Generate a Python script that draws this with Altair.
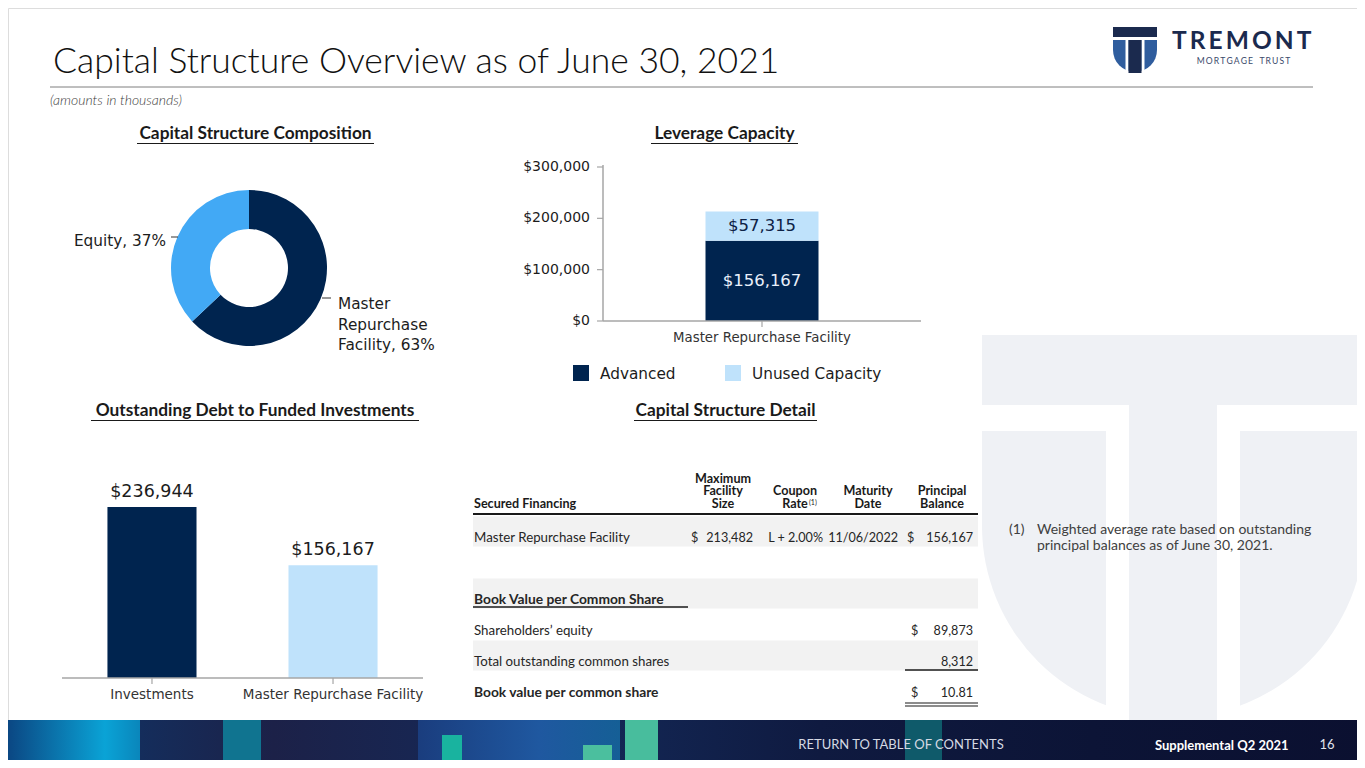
import math
import altair as alt
import pandas as pd

OFF = 8


def P(v):
    return v - OFF


# ---------------- data ----------------
page_title = ["Capital Structure Overview as of June 30, 2021"]
page_subtitle = ["(amounts in thousands)"]
section_titles = ["Capital Structure Composition", "Leverage Capacity",
                  "Outstanding Debt to Funded Investments", "Capital Structure Detail"]

comp_labels = ["Master Repurchase Facility", "Equity"]
comp_pct = [63, 37]

lev_category = ["Master Repurchase Facility"]
lev_series = ["Advanced", "Unused Capacity"]
lev_values = [156167, 57315]
lev_ticks = [0, 100000, 200000, 300000]

debt_categories = ["Investments", "Master Repurchase Facility"]
debt_values = [236944, 156167]

tbl_header = ["Secured Financing", "Maximum\nFacility\nSize", "Coupon\nRate", "Maturity\nDate", "Principal\nBalance"]
tbl_mrf = ["Master Repurchase Facility", "$", "213,482", "L + 2.00%", "11/06/2022", "$", "156,167"]
bv_title = ["Book Value per Common Share"]
bv_labels = ["Shareholders\u2019 equity", "Total outstanding common shares", "Book value per common share"]
bv_dollar = ["$", "", "$"]
bv_values = ["89,873", "8,312", "10.81"]
footnote = ["(1)", "Weighted average rate based on outstanding\nprincipal balances as of June 30, 2021."]
footer_text = ["RETURN TO TABLE OF CONTENTS", "Supplemental Q2 2021", "16"]
logo_text = ["TREMONT", "MORTGAGE TRUST"]

# ---------------- styles ----------------
NAVY = "#00244f"
DONUT_LIGHT = "#42a9f5"
BAR_LIGHT = "#bfe2fb"
AXIS_GRAY = "#a6a6a6"
TEXT = "#1c1c1c"
BG_T = "#eff1f5"
BAND = "#f2f2f2"
DV = "DejaVu Sans"
SANS = "Lato"

one = pd.DataFrame({"k": [0]})


def rect(x1, y1, x2, y2, color):
    return alt.Chart(one).mark_rect(color=color).encode(
        x=alt.value(P(x1)), x2=alt.value(P(x2)), y=alt.value(P(y1)), y2=alt.value(P(y2)))


def hrule(x1, x2, y, color, w=1.0):
    return alt.Chart(one).mark_rule(color=color, strokeWidth=w).encode(
        x=alt.value(P(x1)), x2=alt.value(P(x2)), y=alt.value(P(y)))


def vrule(x, y1, y2, color, w=1.0):
    return alt.Chart(one).mark_rule(color=color, strokeWidth=w).encode(
        x=alt.value(P(x)), y=alt.value(P(y1)), y2=alt.value(P(y2)))


def text(s, x, y, size, color=TEXT, font=SANS, weight="normal", align="left",
         baseline="middle", style="normal", line_height=None):
    kw = dict(fontSize=size, color=color, font=font, fontWeight=weight, align=align,
              baseline=baseline, fontStyle=style, lineBreak="\n")
    if line_height:
        kw["lineHeight"] = line_height
    return alt.Chart(pd.DataFrame({"t": [s]})).mark_text(**kw).encode(
        text="t:N", x=alt.value(P(x)), y=alt.value(P(y)))


def half_disc(cx, cy, r, color):
    return alt.Chart(one).mark_arc(color=color, theta=math.pi / 2, theta2=3 * math.pi / 2,
                                   outerRadius=r, innerRadius=0).encode(
        x=alt.value(P(cx)), y=alt.value(P(cy)))


layers = []

# ---------------- background T shape ----------------
layers += [
    rect(982, 335, 1366, 526, BG_T),
    half_disc(1173.5, 526, 191.5, BG_T),
    rect(1129, 500, 1217, 720, BG_T),
    rect(982, 405, 1129, 431, "white"),
    rect(1217, 405, 1366, 431, "white"),
    rect(1106, 405, 1129, 720, "white"),
    rect(1217, 405, 1240, 720, "white"),
]

# ---------------- header ----------------
layers += [
    text(page_title[0], 53, 62, 35.5, color="#111111", weight=300),
    hrule(50, 1313, 87, "#7f7f7f", 1),
    text(page_subtitle[0], 50, 101, 14, color="#404040", style="italic", weight=300),
]

# logo
LOGO_NAVY = "#1b2a4e"
LOGO_BLUE = "#2f5d9e"
layers += [
    rect(1113, 27, 1157, 50, LOGO_BLUE),
    half_disc(1135, 50, 22, LOGO_BLUE),
    rect(1113, 27, 1157, 37, LOGO_NAVY),
    rect(1112, 37, 1158, 40, "white"),
    rect(1125.5, 37, 1128.5, 75, "white"),
    rect(1141.5, 37, 1144.5, 75, "white"),
    rect(1128.5, 40, 1141.5, 73, LOGO_NAVY),
    text("\u2009".join(logo_text[0]), 1172, 42, 24.5, color=LOGO_NAVY, weight="bold"),
    text("\u2009".join(logo_text[1].replace(" ", "\u2002")), 1243.5, 61, 8.6, color="#3b4a6b", align="center"),
]

# ---------------- section titles ----------------
sec_pos = [(255.5, 134, 137, 374), (724.5, 134, 651, 798), (255, 411, 91, 419), (725.5, 411, 634, 817)]
for s, (cx, cy, ux1, ux2) in zip(section_titles, sec_pos):
    layers.append(text(s, cx, cy, 17.3, color="#1a1a1a", weight="bold", align="center"))
    layers.append(hrule(ux1, ux2, cy + 9.5, "#1a1a1a", 1))

# ---------------- donut ----------------
comp_df = pd.DataFrame({"label": comp_labels, "pct": comp_pct, "idx": [0, 1]})
layers.append(
    alt.Chart(comp_df).mark_arc(innerRadius=39, outerRadius=78).encode(
        theta=alt.Theta("pct:Q", stack=True),
        color=alt.Color("label:N", scale=alt.Scale(domain=comp_labels, range=[NAVY, DONUT_LIGHT]), legend=None),
        order=alt.Order("idx:Q"),
        x=alt.value(P(249)), y=alt.value(P(268)),
    )
)
eq_label = f"{comp_labels[1]}, {comp_pct[1]}%"
mrf_label = "\n".join(comp_labels[0].split(" ")) + f", {comp_pct[0]}%"
layers += [
    text(eq_label, 166, 241, 15.3, font=DV, align="right"),
    hrule(171, 178, 237, "#333333", 1),
    text(mrf_label, 338, 304, 15.3, font=DV, line_height=20.5),
    hrule(322, 331, 298, "#333333", 1),
]

# ---------------- leverage capacity ----------------
lev_df = pd.DataFrame({"category": lev_category * 2, "series": lev_series, "value": lev_values, "idx": [0, 1]})
lx = alt.Scale(type="band", domain=lev_category, range=[P(603), P(921)], paddingInner=0, paddingOuter=0.907)
ly = alt.Scale(domain=[0, 300000], range=[P(321), P(167)], nice=False)
layers.append(
    alt.Chart(lev_df).mark_bar().encode(
        x=alt.X("category:N", scale=lx, axis=None),
        y=alt.Y("value:Q", stack="zero", scale=ly, axis=None),
        color=alt.Color("series:N", scale=alt.Scale(domain=lev_series, range=[NAVY, BAR_LIGHT]), legend=None),
        order=alt.Order("idx:Q"),
    )
)
layers.append(
    alt.Chart(lev_df)
    .transform_window(cum="sum(value)", sort=[alt.SortField("idx")])
    .transform_calculate(mid="datum.cum - datum.value / 2")
    .mark_text(font=DV, fontSize=16.5)
    .encode(
        x=alt.X("category:N", scale=lx, axis=None, bandPosition=0.5),
        y=alt.Y("mid:Q", scale=ly, axis=None),
        text=alt.Text("value:Q", format="$,.0f"),
        color=alt.Color("series:N", scale=alt.Scale(domain=lev_series, range=["#e8effa", "#0d2145"]), legend=None),
    )
)
tick_df = pd.DataFrame({"v": lev_ticks})
layers += [
    alt.Chart(tick_df).mark_text(font=DV, fontSize=14, align="right", color=TEXT).encode(
        x=alt.value(P(590)), y=alt.Y("v:Q", scale=ly, axis=None), text=alt.Text("v:Q", format="$,.0f")),
    alt.Chart(tick_df).mark_rule(color=AXIS_GRAY, strokeWidth=1.2).encode(
        x=alt.value(P(597)), x2=alt.value(P(603)), y=alt.Y("v:Q", scale=ly, axis=None)),
    vrule(603, 165, 321, AXIS_GRAY, 1.5),
    hrule(603, 921, 321, AXIS_GRAY, 1.5),
]
levcat_df = pd.DataFrame({"category": lev_category})
layers += [
    alt.Chart(levcat_df).mark_rule(color=AXIS_GRAY, strokeWidth=1.2).encode(
        x=alt.X("category:N", scale=lx, axis=None, bandPosition=0.5),
        y=alt.value(P(321)), y2=alt.value(P(327))),
    alt.Chart(levcat_df).mark_text(font=DV, fontSize=13.3, color="#333333").encode(
        x=alt.X("category:N", scale=lx, axis=None, bandPosition=0.5),
        y=alt.value(P(338)), text="category:N"),
]
# legend
leg_df = pd.DataFrame({"series": lev_series})
lsx = alt.Scale(type="point", domain=lev_series, range=[P(581), P(733)], padding=0)
layers += [
    alt.Chart(leg_df).mark_square(size=256, opacity=1, filled=True).encode(
        x=alt.X("series:N", scale=lsx, axis=None), y=alt.value(P(373)),
        color=alt.Color("series:N", scale=alt.Scale(domain=lev_series, range=[NAVY, BAR_LIGHT]), legend=None)),
    alt.Chart(leg_df).mark_text(font=DV, fontSize=15.3, align="left", dx=19, color=TEXT).encode(
        x=alt.X("series:N", scale=lsx, axis=None), y=alt.value(P(374)), text="series:N"),
]

# ---------------- outstanding debt ----------------
debt_df = pd.DataFrame({"category": debt_categories, "value": debt_values})
dx_ = alt.Scale(type="band", domain=debt_categories, range=[P(62), P(423)], paddingInner=0.508, paddingOuter=0.251)
dy_ = alt.Scale(domain=[0, 300000], range=[P(678), P(678 - 300000 * 171 / 236944)], nice=False)
layers += [
    alt.Chart(debt_df).mark_bar().encode(
        x=alt.X("category:N", scale=dx_, axis=None),
        y=alt.Y("value:Q", scale=dy_, axis=None),
        color=alt.Color("category:N", scale=alt.Scale(domain=debt_categories, range=[NAVY, BAR_LIGHT]), legend=None),
    ),
    alt.Chart(debt_df).mark_text(font=DV, fontSize=17.5, dy=-15, color=TEXT).encode(
        x=alt.X("category:N", scale=dx_, axis=None, bandPosition=0.5),
        y=alt.Y("value:Q", scale=dy_, axis=None),
        text=alt.Text("value:Q", format="$,.0f"),
    ),
    hrule(62, 423, 678, AXIS_GRAY, 1.5),
    alt.Chart(debt_df).mark_rule(color=AXIS_GRAY, strokeWidth=1.2).encode(
        x=alt.X("category:N", scale=dx_, axis=None, bandPosition=0.5),
        y=alt.value(P(678)), y2=alt.value(P(684))),
    alt.Chart(debt_df).mark_text(font=DV, fontSize=13.5, color="#333333").encode(
        x=alt.X("category:N", scale=dx_, axis=None, bandPosition=0.5),
        y=alt.value(P(695)), text="category:N"),
]

# ---------------- table ----------------
row_keys = ["hdr", "mrf", "gap", "bvh", "se", "tocs", "bvps"]
rs = alt.Scale(type="point", domain=row_keys, range=[P(500.5), P(686.5)], padding=0)
band_df = pd.DataFrame({"row": ["mrf", "bvh", "tocs"]})
layers.append(
    alt.Chart(band_df).mark_rule(color=BAND, strokeWidth=30).encode(
        x=alt.value(P(473)), x2=alt.value(P(978)), y=alt.Y("row:N", scale=rs, axis=None))
)

cells = []
mrf_cols = ["label", "d1", "max", "coupon", "maturity", "d2", "pb"]
for c, t in zip(mrf_cols, tbl_mrf):
    cells.append({"row": "mrf", "col": c, "t": t})
cells.append({"row": "bvh", "col": "label_b", "t": bv_title[0]})
for r, lab, d, v in zip(["se", "tocs", "bvps"], bv_labels, bv_dollar, bv_values):
    cells.append({"row": r, "col": "label_b" if r == "bvps" else "label", "t": lab})
    if d:
        cells.append({"row": r, "col": "d3", "t": d})
    cells.append({"row": r, "col": "pb", "t": v})
cells_df = pd.DataFrame(cells)

NUM_FS = 12.6
col_pos = {"label": (474, "left", "normal", 13.3), "label_b": (474, "left", "bold", 13.8),
           "d1": (691, "left", "normal", NUM_FS), "max": (753, "right", "normal", NUM_FS),
           "coupon": (823, "right", "normal", NUM_FS), "maturity": (898, "right", "normal", NUM_FS),
           "d2": (907, "left", "normal", NUM_FS), "d3": (911, "left", "normal", NUM_FS),
           "pb": (973, "right", "normal", NUM_FS)}
for c, (xx, al, wt, fs) in col_pos.items():
    layers.append(
        alt.Chart(cells_df).transform_filter(alt.datum.col == c)
        .mark_text(font=SANS, fontSize=fs, align=al, fontWeight=wt, dy=6, color="#262626")
        .encode(x=alt.value(P(xx)), y=alt.Y("row:N", scale=rs, axis=None), text="t:N")
    )

hdr_df = pd.DataFrame({"row": ["hdr"] * 5, "t": tbl_header, "i": list(range(5))})
hdr_pos = [(474, "left"), (723, "center"), (795, "center"), (868, "center"), (942, "center")]
HDR_LH = 12.5
for i, (xx, al) in enumerate(hdr_pos):
    nlines = tbl_header[i].count("\n") + 1
    layers.append(
        alt.Chart(hdr_df).transform_filter(alt.datum.i == i)
        .mark_text(font=SANS, fontSize=12.6, fontWeight="bold", align=al, baseline="bottom",
                   lineBreak="\n", lineHeight=HDR_LH, dy=10 - HDR_LH * (nlines - 1), color="#1a1a1a")
        .encode(x=alt.value(P(xx)), y=alt.Y("row:N", scale=rs, axis=None), text="t:N")
    )
layers += [
    text(footnote[0], 809, 503, 7, color="#1a1a1a", align="left"),
    hrule(473, 978, 514, "#1a1a1a", 2),
    hrule(473, 688, 607, "#1a1a1a", 1.5),
    hrule(905, 978, 670, "#1a1a1a", 1.5),
    hrule(905, 978, 703, "#1a1a1a", 1.2),
    hrule(905, 978, 706, "#1a1a1a", 1.2),
]

# footnote
layers += [
    text(footnote[0], 1009, 530, 14, color="#404040"),
    text(footnote[1], 1037, 530, 14, color="#404040", baseline="middle", line_height=16),
]

# ---------------- footer ----------------
base_grad = alt.LinearGradient(gradient="linear", x1=0, x2=1, y1=0, y2=0, stops=[
    alt.GradientStop(color="#0c3a70", offset=0),
    alt.GradientStop(color="#1c2148", offset=0.2),
    alt.GradientStop(color="#142a5a", offset=0.4),
    alt.GradientStop(color="#0f1a40", offset=0.6),
    alt.GradientStop(color="#0c1436", offset=0.8),
    alt.GradientStop(color="#0b1030", offset=1),
])
left_grad = alt.LinearGradient(gradient="linear", x1=0, x2=1, y1=0, y2=0, stops=[
    alt.GradientStop(color="#0b3f7c", offset=0),
    alt.GradientStop(color="#0aa3d6", offset=0.75),
    alt.GradientStop(color="#0a86bb", offset=1),
])
blue_grad = alt.LinearGradient(gradient="linear", x1=0, x2=1, y1=0, y2=0, stops=[
    alt.GradientStop(color="#1a3d7e", offset=0),
    alt.GradientStop(color="#1f58a0", offset=0.6),
    alt.GradientStop(color="#155f96", offset=1),
])
layers += [
    alt.Chart(one).mark_rect(color=base_grad).encode(
        x=alt.value(P(0)), x2=alt.value(P(1366)), y=alt.value(P(720)), y2=alt.value(P(769))),
    alt.Chart(one).mark_rect(color=left_grad).encode(
        x=alt.value(P(0)), x2=alt.value(P(140)), y=alt.value(P(720)), y2=alt.value(P(769))),
    rect(223, 720, 261, 769, "#107490"),
    alt.Chart(one).mark_rect(color=blue_grad).encode(
        x=alt.value(P(418)), x2=alt.value(P(620)), y=alt.value(P(720)), y2=alt.value(P(769))),
    rect(442, 735, 462, 769, "#19b39f"),
    rect(583, 745, 612, 769, "#4bbf9e"),
    rect(625, 720, 658, 769, "#48bd9d"),
    rect(905, 720, 942, 769, "#0f5a6a"),
    text(footer_text[0], 901, 745, 13, color="#d5d9e4", align="center"),
    text(footer_text[1], 1155, 746, 13, color="white", weight="bold"),
    text(footer_text[2], 1327, 745, 13, color="#e0e4ee", align="center"),
]

chart = (
    alt.layer(*layers)
    .resolve_scale(x="independent", y="independent", color="independent")
    .properties(width=1349, height=752, padding=0, autosize=alt.AutoSizeParams(type="none"))
    .configure_view(stroke=None)
    .configure(background="white")
)

chart.save("out.html", embed_options={"renderer": "svg", "actions": False})
